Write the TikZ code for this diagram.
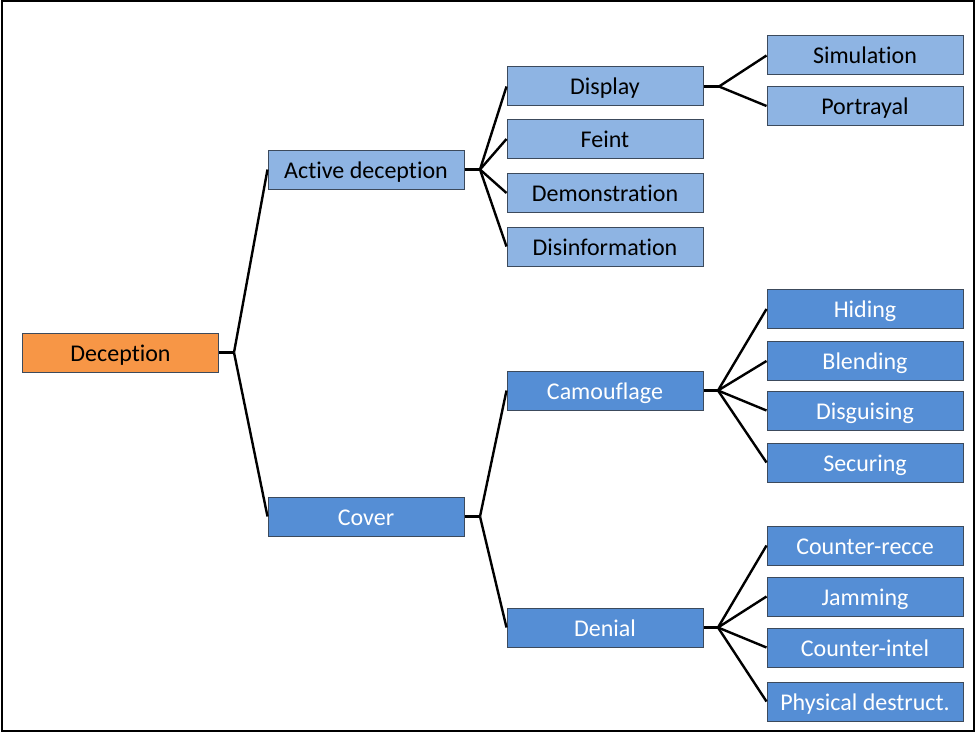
\documentclass[tikz,border=0pt]{standalone}
\usepackage{fontspec}
\setmainfont{Carlito}[RawFeature={-liga;-dlig;-clig}]
\definecolor{orangefill}{HTML}{F79646}
\definecolor{lightfill}{HTML}{8EB4E3}
\definecolor{midfill}{HTML}{558ED5}
\definecolor{boxline}{HTML}{3C4A5C}
\begin{document}
\begin{tikzpicture}[x=1pt,y=-1pt,
  box/.style={draw=boxline,line width=1pt,minimum width=196pt,minimum height=39pt,inner sep=0pt,text height=22pt,text depth=5pt,font=\fontsize{24}{28}\selectfont},
  rootbox/.style={box,fill=orangefill,text=black},
  lightbox/.style={box,fill=lightfill,text=black},
  darkbox/.style={box,fill=midfill,text=white},
  conn/.style={line width=2.4pt,black}]
\useasboundingbox (0,0) rectangle (976,733);
\draw[line width=2pt] (2,1) rectangle (974,731);
\node[rootbox] (dec) at (120.5,352.5) {Deception};
\node[lightbox] (act) at (366,169.5) {Active deception};
\node[darkbox] (cov) at (366,516.5) {Cover};
\node[lightbox] (disp) at (605,86.5) {Display};
\node[lightbox] (feint) at (605,139) {Feint};
\node[lightbox] (demo) at (605,193) {Demonstration};
\node[lightbox] (disinf) at (605,246.5) {Disinformation};
\node[lightbox] (sim) at (865,55.5) {Simulation};
\node[lightbox] (port) at (865,106) {Portrayal};
\node[darkbox] (cam) at (605,390.5) {Camouflage};
\node[darkbox] (den) at (605,627.5) {Denial};
\node[darkbox] (hid) at (865,309) {Hiding};
\node[darkbox] (blend) at (865,361) {Blending};
\node[darkbox] (disg) at (865,410.5) {Disguising};
\node[darkbox] (sec) at (865,462.5) {Securing};
\node[darkbox] (crec) at (865,545.5) {Counter-recce};
\node[darkbox] (jam) at (865,596.5) {Jamming};
\node[darkbox] (cint) at (865,647.5) {Counter-intel};
\node[darkbox] (phys) at (865,701.5) {Physical destruct.};
% junctions
\coordinate (jdec) at (234,352.5);
\coordinate (jact) at (480,169.5);
\coordinate (jcov) at (480,516.5);
\coordinate (jdisp) at (719,86.5);
\coordinate (jcam) at (718,390.5);
\coordinate (jden) at (718,627.5);
\draw[conn] (dec.east) -- (jdec);
\draw[conn] (jdec) -- (act.west);
\draw[conn] (jdec) -- (cov.west);
\draw[conn] (act.east) -- (jact);
\foreach \c in {disp,feint,demo,disinf} \draw[conn] (jact) -- (\c.west);
\draw[conn] (cov.east) -- (jcov);
\foreach \c in {cam,den} \draw[conn] (jcov) -- (\c.west);
\draw[conn] (disp.east) -- (jdisp);
\foreach \c in {sim,port} \draw[conn] (jdisp) -- (\c.west);
\draw[conn] (cam.east) -- (jcam);
\foreach \c in {hid,blend,disg,sec} \draw[conn] (jcam) -- (\c.west);
\draw[conn] (den.east) -- (jden);
\foreach \c in {crec,jam,cint,phys} \draw[conn] (jden) -- (\c.west);
\end{tikzpicture}
\end{document}
